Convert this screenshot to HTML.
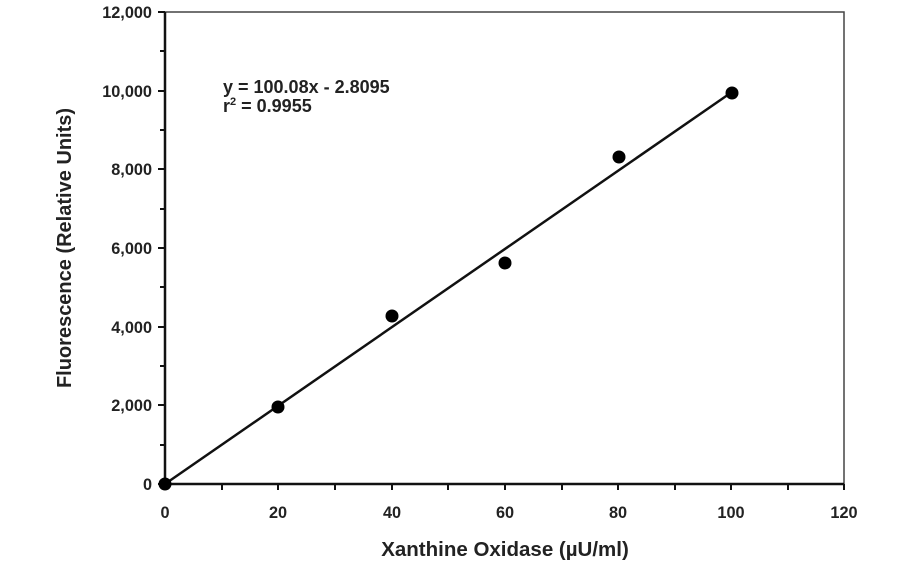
<!DOCTYPE html>
<html><head><style>body{margin:0;background:#fff}svg{display:block}</style></head><body>
<svg width="912" height="562" xmlns="http://www.w3.org/2000/svg" font-family="Liberation Sans, sans-serif" font-weight="bold" fill="#222">
<rect x="165" y="12" width="679" height="472" fill="none" stroke="#444" stroke-width="1.5"/>
<line x1="165" y1="12" x2="165" y2="484" stroke="#111" stroke-width="2.5"/>
<line x1="165" y1="484" x2="844" y2="484" stroke="#111" stroke-width="2.5"/>
<g stroke="#111" stroke-width="2">
<line x1="158" y1="12" x2="165" y2="12"/><line x1="160" y1="51" x2="165" y2="51"/>
<line x1="158" y1="91" x2="165" y2="91"/><line x1="160" y1="130" x2="165" y2="130"/>
<line x1="158" y1="169" x2="165" y2="169"/><line x1="160" y1="209" x2="165" y2="209"/>
<line x1="158" y1="248" x2="165" y2="248"/><line x1="160" y1="287" x2="165" y2="287"/>
<line x1="158" y1="327" x2="165" y2="327"/><line x1="160" y1="366" x2="165" y2="366"/>
<line x1="158" y1="405" x2="165" y2="405"/><line x1="160" y1="445" x2="165" y2="445"/>
<line x1="158" y1="484" x2="165" y2="484"/>
<line x1="222" y1="484" x2="222" y2="490"/><line x1="278" y1="484" x2="278" y2="490"/>
<line x1="335" y1="484" x2="335" y2="490"/><line x1="392" y1="484" x2="392" y2="490"/>
<line x1="448" y1="484" x2="448" y2="490"/><line x1="505" y1="484" x2="505" y2="490"/>
<line x1="562" y1="484" x2="562" y2="490"/><line x1="618" y1="484" x2="618" y2="490"/>
<line x1="675" y1="484" x2="675" y2="490"/><line x1="731" y1="484" x2="731" y2="490"/>
<line x1="788" y1="484" x2="788" y2="490"/><line x1="844" y1="484" x2="844" y2="490"/>
</g>
<g font-size="16.3" text-anchor="end">
<text x="152" y="18">12,000</text><text x="152" y="97">10,000</text>
<text x="152" y="175">8,000</text><text x="152" y="254">6,000</text>
<text x="152" y="333">4,000</text><text x="152" y="411">2,000</text>
<text x="152" y="490">0</text>
</g>
<g font-size="16.3" text-anchor="middle">
<text x="165" y="518">0</text><text x="278" y="518">20</text><text x="392" y="518">40</text>
<text x="505" y="518">60</text><text x="618" y="518">80</text><text x="731" y="518">100</text>
<text x="844" y="518">120</text>
<text x="505" y="556" font-size="20.5">Xanthine Oxidase (µU/ml)</text>
<text transform="translate(71,248) rotate(-90)" font-size="20">Fluorescence (Relative Units)</text>
</g>
<text x="223" y="93" font-size="18">y = 100.08x - 2.8095</text>
<text x="223" y="112" font-size="18">r<tspan font-size="11" dy="-7">2</tspan><tspan dy="7"> = 0.9955</tspan></text>
<line x1="165" y1="484" x2="732" y2="92" stroke="#111" stroke-width="2.5"/>
<g fill="#000">
<circle cx="165" cy="484" r="6.5"/><circle cx="278" cy="407" r="6.5"/>
<circle cx="392" cy="316" r="6.5"/><circle cx="505" cy="263" r="6.5"/>
<circle cx="619" cy="157" r="6.5"/><circle cx="732" cy="93" r="6.5"/>
</g>
</svg>
</body></html>
